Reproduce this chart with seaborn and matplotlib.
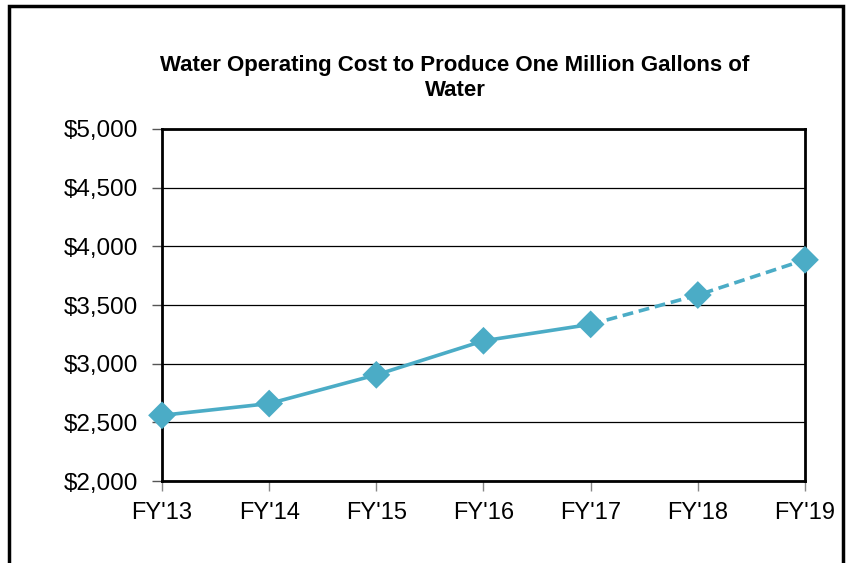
import matplotlib
matplotlib.use("Agg")
import matplotlib.pyplot as plt
import seaborn as sns
import pandas as pd
from matplotlib.patches import Rectangle
from matplotlib.ticker import FuncFormatter, MultipleLocator

# ---------------------------------------------------------------------------
# Data
# ---------------------------------------------------------------------------
years = ["FY'13", "FY'14", "FY'15", "FY'16", "FY'17", "FY'18", "FY'19"]
cost = [2560, 2660, 2905, 3195, 3335, 3585, 3885]
n_actual = 5  # FY'13..FY'17 solid, after that projected (dashed)

LINE = "#4BACC6"

df = pd.DataFrame({"year": years, "cost": cost})
actual = df.iloc[:n_actual]
projected = df.iloc[n_actual - 1:]

sns.set_theme(style="white")
plt.rcParams["font.family"] = ["Liberation Sans", "DejaVu Sans"]
plt.rcParams["text.color"] = "black"

fig = plt.figure(figsize=(8.46, 5.63), dpi=100)
ax = fig.add_axes([0.1915, 0.1456, 0.7600, 0.6253])

sns.lineplot(data=actual, x="year", y="cost", ax=ax, color=LINE,
             linewidth=2.6, sort=False)
sns.lineplot(data=projected, x="year", y="cost", ax=ax, color=LINE,
             linewidth=2.6, sort=False, linestyle=(0, (3, 1.6)))
sns.scatterplot(data=df, x="year", y="cost", ax=ax, color=LINE,
                marker="D", s=200, edgecolor="none", zorder=5, clip_on=False)

ax.set_xlim(0, len(years) - 1)
ax.set_ylim(2000, 5000)
ax.yaxis.set_major_locator(MultipleLocator(500))
ax.yaxis.set_major_formatter(FuncFormatter(lambda v, p: f"${v:,.0f}"))
ax.grid(axis="y", color="black", linewidth=0.9)
ax.set_axisbelow(True)
ax.set_xlabel("")
ax.set_ylabel("")

for s in ax.spines.values():
    s.set_color("black")
    s.set_linewidth(2)

ax.tick_params(axis="x", length=7, width=1, color="#888888", labelsize=17,
               pad=8, bottom=True, labelcolor="black")
ax.tick_params(axis="y", length=7, width=1, color="#555555", labelsize=17.5,
               pad=10, left=True, labelcolor="black")

fig.suptitle("Water Operating Cost to Produce One Million Gallons of\nWater",
             x=0.538, y=0.903, fontsize=16, fontweight="bold", color="black",
             linespacing=1.25)

# outer chart frame (bottom edge is cut off in the original)
fig.patches.append(Rectangle((9 / 846, -0.05), (843 - 9) / 846, 1.05 - 6 / 563,
                             transform=fig.transFigure, fill=False,
                             edgecolor="black", linewidth=2.5))

fig.savefig("out.png", dpi=100)
